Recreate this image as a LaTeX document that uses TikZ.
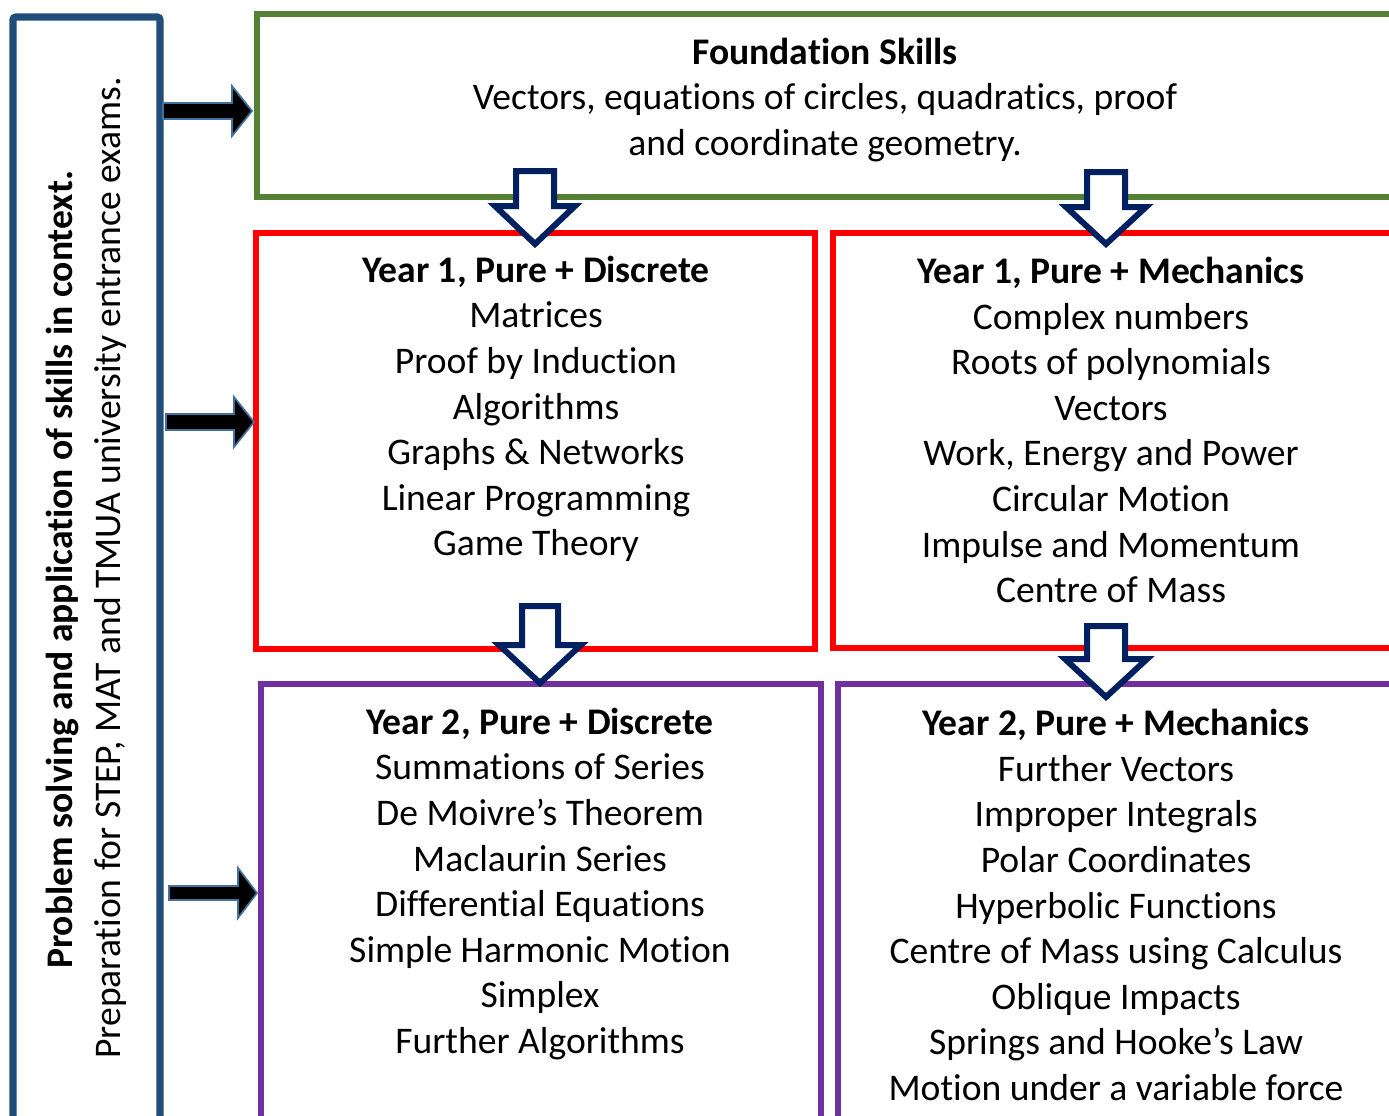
\documentclass[tikz,border=0pt]{standalone}
\usepackage{fontspec}
\setmainfont[Ligatures=NoCommon]{Carlito}
\definecolor{sideblue}{RGB}{31,78,121}
\definecolor{fgreen}{RGB}{84,130,53}
\definecolor{yred}{RGB}{255,0,0}
\definecolor{ypurple}{RGB}{112,48,160}
\definecolor{navy}{RGB}{0,32,96}
\definecolor{arrowedge}{RGB}{65,113,156}
\newcommand\blockdown[6]{% cx, top, headY, tip, shaftHalf, headHalf
  \draw[dnarrow] (#1-#5,#2) -- (#1+#5,#2) -- (#1+#5,#3) -- (#1+#6,#3) -- (#1,#4)
    -- (#1-#6,#3) -- (#1-#5,#3) -- cycle;}
\newcommand\blockright[6]{% left, cy, headX, tip, shaftHalf, headHalf
  \draw[rtarrow] (#1,#2-#5) -- (#3,#2-#5) -- (#3,#2-#6) -- (#4,#2) -- (#3,#2+#6)
    -- (#3,#2+#5) -- (#1,#2+#5) -- cycle;}
\tikzset{
  boxline/.style={line width=4.7pt},
  dnarrow/.style={draw=navy, fill=white, line width=4.5pt, line join=miter},
  rtarrow/.style={draw=arrowedge, fill=black, line width=1.3pt, line join=miter},
  txt/.style={align=center, font=\fontsize{28.2}{34.2}\selectfont, inner sep=0pt},
}
\begin{document}
\begin{tikzpicture}[x=0.75pt,y=-0.75pt]
\useasboundingbox (0,0) rectangle (1389,1115);
\clip (0,0) rectangle (1389,1115);
% boxes
\draw[sideblue, line width=5.3pt, rounded corners=2pt] (13,17) rectangle (160,1140);
\draw[fgreen, boxline] (257,14) rectangle (1420,197);
\draw[yred, boxline] (256,233) rectangle (815,649);
\draw[yred, boxline] (833,233) rectangle (1420,648);
\draw[ypurple, boxline] (261,684) rectangle (821,1140);
\draw[ypurple, boxline] (838,684) rectangle (1420,1140);
% side texts
\node[txt, rotate=90, font=\fontsize{28.2}{34.2}\selectfont\bfseries] (sidetitle) at (62,570)
  {Problem solving and application of skills in context.};
\node[txt, rotate=90] (sideprep) at (110,568)
  {Preparation for STEP, MAT and TMUA university entrance exams.};
% box texts
\node[txt] (foundation) at (825,100)
  {\textbf{Foundation Skills}\\Vectors, equations of circles, quadratics, proof\\and coordinate geometry.};
\node[txt] (y1d) at (536,409)
  {\textbf{Year 1, Pure + Discrete}\\Matrices\\Proof by Induction\\Algorithms\\Graphs \& Networks\\Linear Programming\\Game Theory};
\node[txt] (y1m) at (1111,430)
  {\textbf{Year 1, Pure + Mechanics}\\Complex numbers\\Roots of polynomials\\Vectors\\Work, Energy and Power\\Circular Motion\\Impulse and Momentum\\Centre of Mass};
\node[txt] (y2d) at (540,884)
  {\textbf{Year 2, Pure + Discrete}\\Summations of Series\\De Moivre’s Theorem\\Maclaurin Series\\Differential Equations\\Simple Harmonic Motion\\Simplex\\Further Algorithms};
\node[txt] (y2m) at (1116,905)
  {\textbf{Year 2, Pure + Mechanics}\\Further Vectors\\Improper Integrals\\Polar Coordinates\\Hyperbolic Functions\\Centre of Mass using Calculus\\Oblique Impacts\\Springs and Hooke’s Law\\Motion under a variable force};
% block arrows down
\blockdown{535}{171}{206}{244}{19}{40}
\blockdown{1106}{172}{207}{244}{19}{40}
\blockdown{540}{606}{645}{683}{18}{41}
\blockdown{1106}{626}{659}{697}{19}{41}
% right arrows
\blockright{163}{111}{232}{252}{8}{25}
\blockright{166}{422}{234}{254}{8}{25}
\blockright{169}{893}{238}{257}{7}{25}
\end{tikzpicture}
\end{document}
